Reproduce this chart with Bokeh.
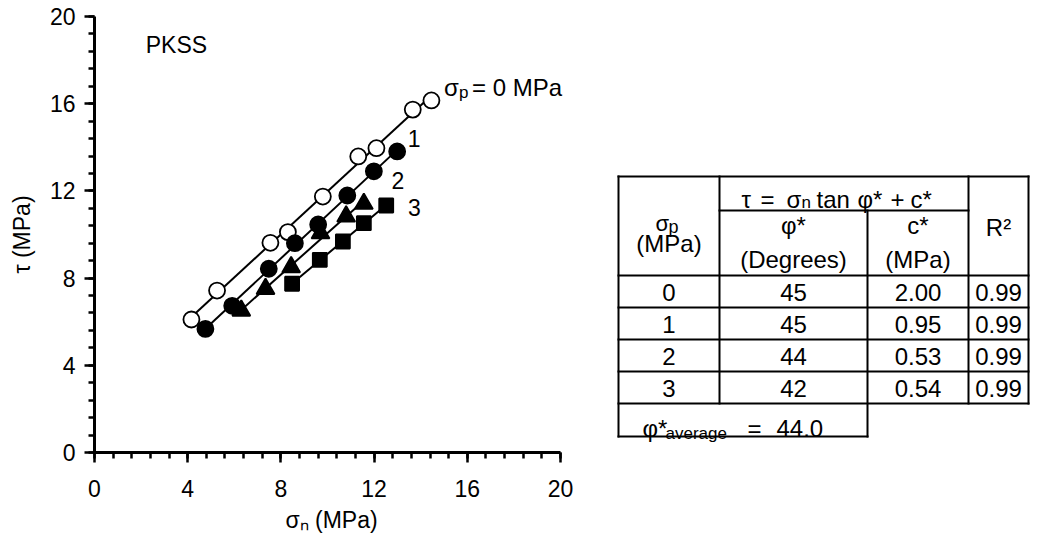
import numpy as np
from bokeh.plotting import figure
from bokeh.models import Range1d, FixedTicker
from bokeh.layouts import row
from bokeh.core.properties import value
from bokeh.embed import file_html
from bokeh.resources import INLINE

FONT = "Liberation Sans"

# Shear stress (tau) against normal stress (sigma_n) for each pre-stress sigma_p, MPa
sn_0 = [4.16, 5.26, 7.55, 8.30, 9.80, 11.32, 12.10, 13.66, 14.46]
tau_0 = [6.10, 7.43, 9.62, 10.11, 11.74, 13.58, 13.96, 15.73, 16.15]
sn_1 = [4.76, 5.91, 7.48, 8.60, 9.60, 10.85, 11.99, 12.99]
tau_1 = [5.67, 6.73, 8.43, 9.60, 10.46, 11.79, 12.90, 13.81]
sn_2 = [6.30, 7.34, 8.44, 9.70, 10.80, 11.56]
tau_2 = [6.51, 7.51, 8.50, 10.06, 10.83, 11.41]
sn_3 = [8.48, 9.67, 10.66, 11.56, 12.52]
tau_3 = [7.74, 8.84, 9.68, 10.52, 11.33]

major_ticks = [0, 4, 8, 12, 16, 20]
minor_step = 0.8

# Fit summary table
sigma_p = ["0", "1", "2", "3"]
phi_deg = ["45", "45", "44", "42"]
c_mpa = ["2.00", "0.95", "0.53", "0.54"]
r_squared = ["0.99", "0.99", "0.99", "0.99"]
phi_average = "44.0"

# shared frame placement so both panels line up in the row
TOP, BOTTOM = 16, 89
LEFT, AXIS_W, FRAME_W = 94, 466, 474   # axis 0..20 spans AXIS_W px of the frame

# ---------------------------------------------------------------- scatter plot
p = figure(width=600, height=541, x_range=Range1d(0, 20 * FRAME_W / AXIS_W),
           y_range=Range1d(0, 20), output_backend="svg", toolbar_location=None,
           min_border_left=LEFT, min_border_right=600 - LEFT - FRAME_W,
           min_border_top=TOP, min_border_bottom=BOTTOM, outline_line_color=None)
p.grid.visible = False

minor = [round(v, 2) for v in np.arange(0, 20 + 1e-9, minor_step)]
for ax in (p.xaxis[0], p.yaxis[0]):
    ax.ticker = FixedTicker(ticks=major_ticks, minor_ticks=minor)
    ax.bounds = (0, 20)
    ax.axis_line_width = 3
    ax.axis_line_color = "black"
    ax.major_tick_line_width = 2.5
    ax.minor_tick_line_width = 2.5
    ax.major_tick_line_color = "black"
    ax.minor_tick_line_color = "black"
    ax.major_tick_out = 10
    ax.major_tick_in = 0
    ax.minor_tick_out = 6
    ax.minor_tick_in = 0
    ax.major_label_text_font = FONT
    ax.major_label_text_font_size = "23px"
    ax.major_label_text_color = "black"
    ax.axis_label_text_font = FONT
    ax.axis_label_text_font_size = "23px"
    ax.axis_label_text_font_style = "normal"
    ax.axis_label_text_color = "black"
p.xaxis.major_label_standoff = 17
p.yaxis.major_label_standoff = 9

p.xaxis.axis_label = "σₙ (MPa)"
p.xaxis.axis_label_standoff = 7
p.yaxis.axis_label = "τ (MPa)"
p.yaxis.axis_label_standoff = 12

series = [
    (sn_0, tau_0, "circle", 16, "white"),
    (sn_1, tau_1, "circle", 16, "black"),
    (sn_2, tau_2, "triangle", 18, "black"),
    (sn_3, tau_3, "square", 14, "black"),
]
# least-squares line through each series, drawn over its measured range
for sn, tau, *_ in series:
    k, b = np.polyfit(sn, tau, 1)
    xs = [min(sn), max(sn)]
    p.line(xs, [k * x + b for x in xs], line_color="black", line_width=2)
for sn, tau, marker, size, fill in series:
    p.scatter(sn, tau, marker=marker, size=size, fill_color=fill,
              line_color="black", line_width=1.8)

txt = dict(text_font=value(FONT), text_color="black", text_baseline="alphabetic",
           text_align="left")
p.text(x=[2.2], y=[18.7], text=["PKSS"], text_font_size="23px", **txt)
p.text(x=[15.0, 16.2], y=[16.75, 16.75], text=["σ", "= 0 MPa"],
       text_font_size="24px", **txt)
p.text(x=[15.64], y=[16.52], text=["p"], text_font_size="17px", **txt)
p.text(x=[13.72, 13.02, 13.73], y=[14.39, 12.48, 11.25], text=["1", "2", "3"],
       text_font=value(FONT), text_color="black", text_font_size="23px",
       text_align="center", text_baseline="middle")

# ---------------------------------------------------------------- fit table
# data units of this panel equal page pixels (x from the left, y from the top)
t = figure(width=443, height=541, x_range=Range1d(600, 1043),
           y_range=Range1d(541 - BOTTOM, TOP), output_backend="svg",
           toolbar_location=None, min_border_left=0, min_border_right=0,
           min_border_top=TOP, min_border_bottom=BOTTOM,
           x_axis_location=None, y_axis_location=None, outline_line_color=None)
t.grid.visible = False

cx = [618, 719, 867, 968, 1028]          # column edges
ry = [176, 275, 307, 339, 371, 403, 436]  # row edges
ry_sub = 210                              # split inside the header

x0, y0, x1, y1 = [], [], [], []
def seg(a, b, c, d):
    x0.append(a); y0.append(b); x1.append(c); y1.append(d)

seg(cx[0], ry[0], cx[4], ry[0])
seg(cx[1], ry_sub, cx[3], ry_sub)
for yy in ry[1:6]:
    seg(cx[0], yy, cx[4], yy)
seg(cx[0], ry[6], cx[2], ry[6])
seg(cx[0], ry[0], cx[0], ry[6])
seg(cx[1], ry[0], cx[1], ry[5])
seg(cx[2], ry_sub, cx[2], ry[6])
seg(cx[3], ry[0], cx[3], ry[5])
seg(cx[4], ry[0], cx[4], ry[5])
t.segment(x0, y0, x1, y1, line_color="black", line_width=2, line_cap="square")

col_mid = [(cx[i] + cx[i + 1]) / 2 for i in range(4)]
row_mid = [(ry[i] + ry[i + 1]) / 2 + 1 for i in range(1, 5)]
cell = dict(text_font=value(FONT), text_color="black", text_font_size="24px",
            text_align="center", text_baseline="middle")
for i, col in enumerate([sigma_p, phi_deg, c_mpa, r_squared]):
    t.text(x=[col_mid[i]] * 4, y=row_mid, text=col, **cell)

# header cells
t.text(x=[col_mid[0], col_mid[1], col_mid[1], col_mid[2], col_mid[2], col_mid[3]],
       y=[243, 225, 259, 225, 259, 227],
       text=["(MPa)", "φ*", "(Degrees)", "c*", "(MPa)", "R²"], **cell)
left = dict(text_font=value(FONT), text_color="black", text_align="left",
            text_baseline="alphabetic")
t.text(x=[655], y=[223], text=["σ"], text_font_size="22px", **left)
t.text(x=[668], y=[226], text=["p"], text_font_size="18px", **left)
# fitted law  tau = sigma_n tan(phi*) + c*
t.text(x=[741, 760, 786, 816, 857, 890, 910], y=[199] * 7,
       text=["τ", "=", "σ", "tan", "φ*", "+", "c*"],
       text_font_size="24px", **left)
t.text(x=[801], y=[202], text=["n"], text_font_size="17px", **left)

# average friction angle row
t.text(x=[642, 747, 776], y=[428, 428, 428], text=["φ*", "=", phi_average],
       text_font_size="24px", **left)
t.text(x=[665], y=[433], text=["average"], text_font_size="17px", **left)

layout = row(p, t)
open("out.html", "w").write(file_html(layout, INLINE))
